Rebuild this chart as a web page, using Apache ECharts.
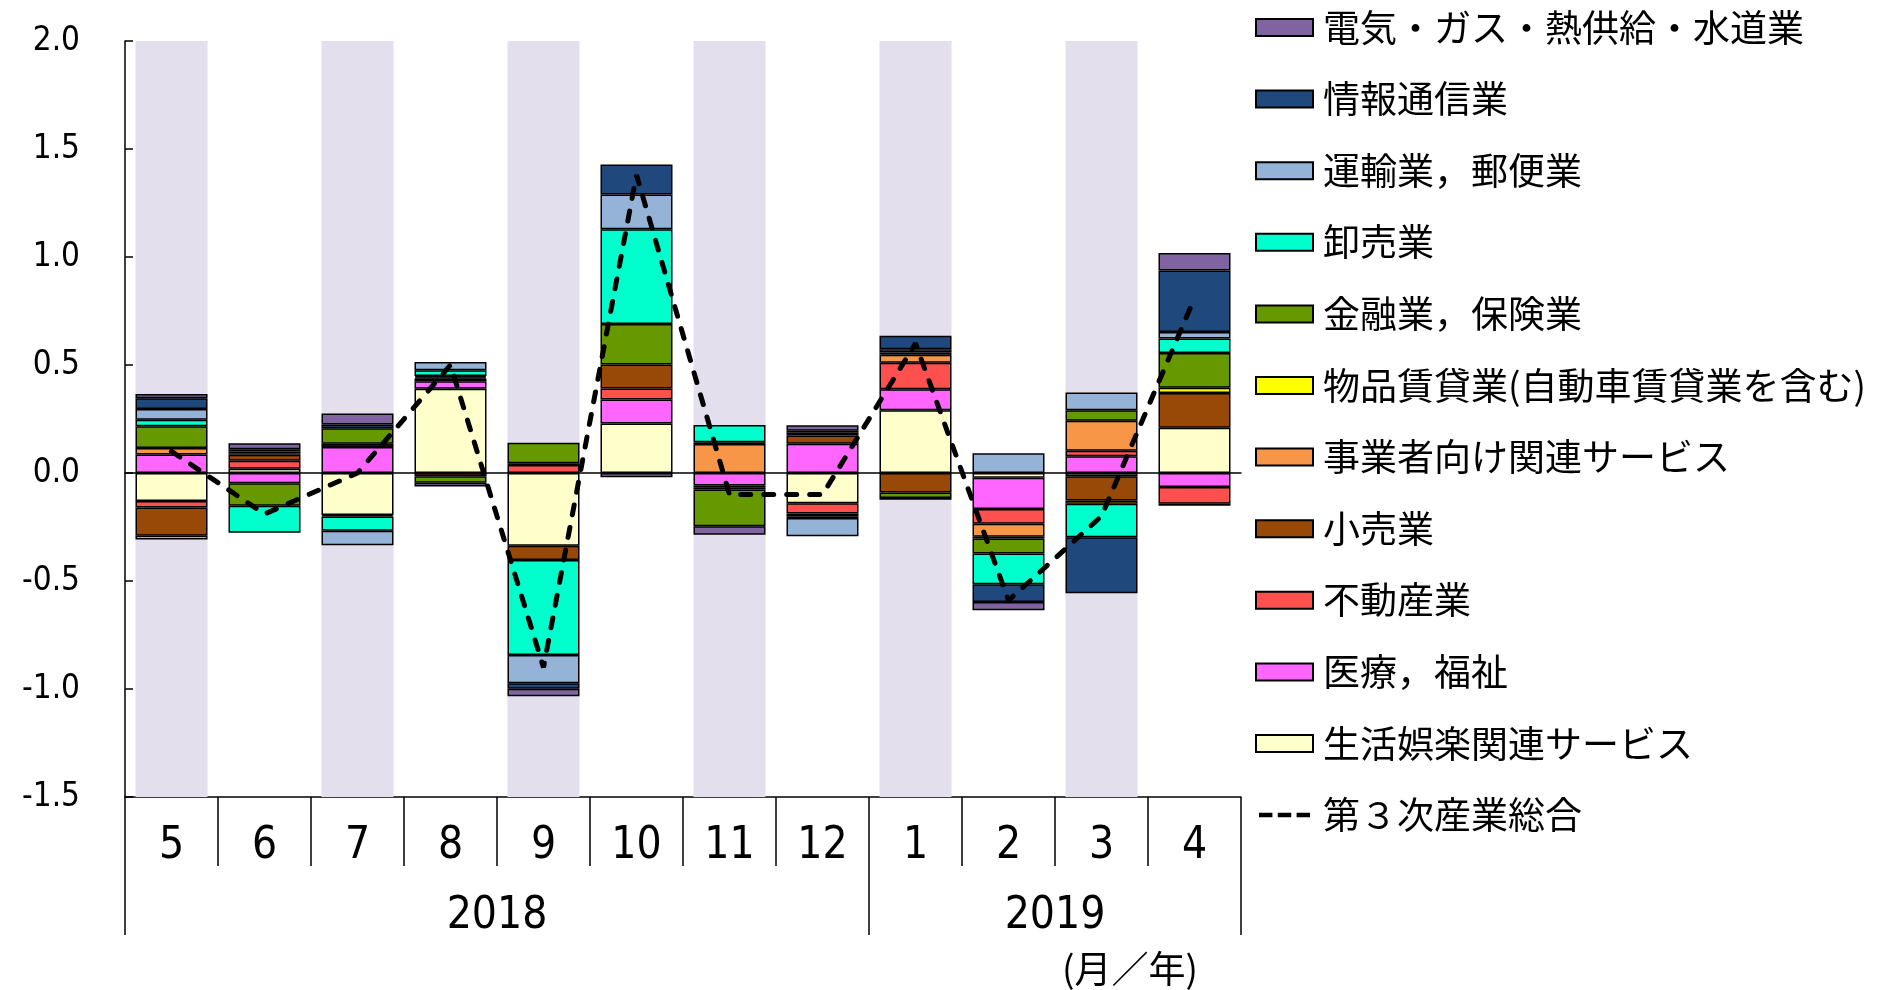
<!DOCTYPE html>
<html>
<head>
<meta charset="utf-8">
<title>第３次産業活動指数 業種別寄与度</title>
<script src="https://cdn.jsdelivr.net/npm/echarts@6.0.0/dist/echarts.min.js"></script>
<style>
  html, body { margin: 0; padding: 0; background: #fff; }
  #chart { width: 1889px; height: 990px; }
</style>
</head>
<body>
<div id="chart"></div>
<script>
// 月（2018/5 〜 2019/4）
const months = ["5", "6", "7", "8", "9", "10", "11", "12", "1", "2", "3", "4"];
const years = ["2018", "2019"];
const monthsInYear = [8, 4];
const shadedMonths = ["5", "7", "9", "11", "1", "3"];

// y軸
const Y_MIN = -1.5;
const Y_MAX = 2.0;
const Y_STEP = 0.5;

// 業種別寄与度（積み上げ順：ゼロに近い方から）
const seikatsu = [-0.13, 0.02, -0.195, 0.39, -0.337, 0.229, null, -0.14, 0.291, -0.022, -0.015, 0.21];
const iryo = [0.086, -0.047, 0.12, 0.035, null, 0.111, -0.058, 0.135, 0.097, -0.145, 0.077, -0.065];
const fudosan = [-0.03, 0.037, null, -0.015, 0.037, 0.051, -0.008, -0.048, 0.122, -0.068, 0.026, -0.077];
const kouri = [-0.13, 0.027, 0.015, 0.012, -0.066, 0.111, -0.01, 0.039, -0.09, null, -0.112, 0.16];
const jigyosha = [0.03, 0.008, -0.006, 0.006, 0.008, null, 0.134, -0.012, 0.038, -0.06, 0.139, -0.01];
const buppin = [-0.018, null, null, 0.006, null, null, 0.008, -0.008, 0.01, -0.008, -0.015, 0.025];
const kinyu = [0.1, -0.105, 0.072, -0.03, 0.095, 0.188, -0.17, 0.012, -0.026, -0.07, 0.049, 0.16];
const oroshi = [0.03, -0.125, -0.066, 0.027, -0.44, 0.439, 0.08, null, -0.008, -0.142, -0.155, 0.068];
const unyu = [0.05, 0.008, -0.068, 0.038, -0.13, 0.16, null, -0.085, 0.015, 0.091, 0.082, 0.03];
const joho = [0.05, 0.01, 0.018, null, -0.026, 0.139, null, 0.01, 0.062, -0.082, -0.26, 0.285];
const denki = [0.02, 0.028, 0.05, -0.018, -0.035, -0.02, -0.04, 0.025, null, -0.038, null, 0.08];

// 第３次産業総合（前月比）
const sogo = [0.1, -0.19, 0.0, 0.5, -0.9, 1.38, -0.1, -0.1, 0.6, -0.59, -0.2, 0.81];

const BAR_SERIES = [
  { name: "生活娯楽関連サービス", data: seikatsu, color: "#FFFFCC" },
  { name: "医療，福祉", data: iryo, color: "#FF66FF" },
  { name: "不動産業", data: fudosan, color: "#FF5050" },
  { name: "小売業", data: kouri, color: "#984807" },
  { name: "事業者向け関連サービス", data: jigyosha, color: "#F79646" },
  { name: "物品賃貸業(自動車賃貸業を含む)", data: buppin, color: "#FFFF00" },
  { name: "金融業，保険業", data: kinyu, color: "#669900" },
  { name: "卸売業", data: oroshi, color: "#00FFCC" },
  { name: "運輸業，郵便業", data: unyu, color: "#95B3D7" },
  { name: "情報通信業", data: joho, color: "#1F497D" },
  { name: "電気・ガス・熱供給・水道業", data: denki, color: "#8064A2" },
];
const LINE_NAME = "第３次産業総合";

const NARROW = "'Liberation Sans Narrow', 'DejaVu Sans Condensed', sans-serif";
const JP = "'Noto Sans CJK JP', sans-serif";
const BLACK_LINE = { color: "#000", width: 1.5 };
// 凡例用の破線アイコン（上下の小さな点で高さを確保）
const DASH_ICON =
  "path://M0,0h0.1v0.1h-0.1z M0,7h15v5h-15z M21,7h15v5h-15z M42,7h15v5h-15z M0,18.9h0.1v0.1h-0.1z";

// 年の区切り位置とラベル位置（月数から計算）
const yearBounds = [0];
monthsInYear.forEach((n, i) => yearBounds.push(yearBounds[i] + n));
const yearCenters = years.map((y, i) => (yearBounds[i] + yearBounds[i + 1]) / 2);

const bandUp = months.map((m) => (shadedMonths.includes(m) ? Y_MAX : null));
const bandDown = months.map((m) => (shadedMonths.includes(m) ? Y_MIN : null));

function getChartOption() {
  const barSeries = BAR_SERIES.map((s) => ({
    name: s.name,
    type: "bar",
    stack: "total",
    xAxisIndex: 0,
    barWidth: 72,
    z: 3,
    itemStyle: { color: s.color, borderColor: "#000", borderWidth: 1.5 },
    data: s.data,
  }));

  const legendData = BAR_SERIES.slice()
    .reverse()
    .map((s) => ({ name: s.name, icon: "rect" }));
  legendData.push({ name: LINE_NAME, icon: DASH_ICON, itemStyle: { color: "#000", borderWidth: 0 } });

  return {
    animation: false,
    backgroundColor: "#fff",
    title: {
      text: "(月／年)",
      left: 1062,
      top: 950,
      padding: 0,
      textStyle: { fontSize: 37, fontWeight: "normal", fontFamily: JP, color: "#000" },
    },
    grid: { left: 125, right: 648, top: 41, bottom: 193, outerBoundsMode: "none" },
    legend: {
      orient: "vertical",
      left: 1250,
      top: 4,
      itemWidth: 57,
      itemHeight: 17,
      itemGap: 34.6,
      selectedMode: false,
      textStyle: { fontSize: 37, lineHeight: 37, fontFamily: JP, color: "#000", padding: [0, 0, 0, 5] },
      data: legendData,
    },
    xAxis: [
      {
        type: "category",
        data: months,
        position: "bottom",
        axisLine: { onZero: false, lineStyle: BLACK_LINE },
        axisTick: { show: true, length: 69, lineStyle: BLACK_LINE },
        axisLabel: { margin: 28, fontSize: 44, color: "#000", fontFamily: NARROW },
        splitLine: { show: false },
      },
      {
        // ゼロ線 + 背景帯用
        type: "category",
        data: months,
        position: "bottom",
        z: 2,
        axisLine: { onZero: true, lineStyle: BLACK_LINE },
        axisTick: { show: false },
        axisLabel: { show: false },
        splitLine: { show: false },
      },
      {
        // 年ラベル
        type: "value",
        min: 0,
        max: yearBounds[yearBounds.length - 1],
        position: "bottom",
        axisLine: { show: false, onZero: false },
        axisTick: { show: true, customValues: yearBounds, length: 138, lineStyle: BLACK_LINE },
        axisLabel: {
          customValues: yearCenters,
          formatter: (v) => years[yearCenters.indexOf(v)],
          margin: 98,
          fontSize: 44,
          color: "#000",
          fontFamily: NARROW,
        },
        splitLine: { show: false },
      },
    ],
    yAxis: {
      type: "value",
      min: Y_MIN,
      max: Y_MAX,
      interval: Y_STEP,
      axisLine: { show: true, onZero: false, lineStyle: BLACK_LINE },
      axisTick: { show: true, inside: true, length: 8, lineStyle: BLACK_LINE },
      axisLabel: {
        formatter: (v) => v.toFixed(1),
        margin: 45,
        fontSize: 33,
        color: "#000",
        fontFamily: NARROW,
      },
      splitLine: { show: false },
    },
    series: [
      {
        name: "bandUp",
        type: "bar",
        xAxisIndex: 1,
        barWidth: 72,
        barGap: "-100%",
        silent: true,
        z: 1,
        itemStyle: { color: "#E4DFEC" },
        data: bandUp,
      },
      {
        name: "bandDown",
        type: "bar",
        xAxisIndex: 1,
        barWidth: 72,
        barGap: "-100%",
        silent: true,
        z: 1,
        itemStyle: { color: "#E4DFEC" },
        data: bandDown,
      },
      ...barSeries,
      {
        name: LINE_NAME,
        type: "line",
        xAxisIndex: 0,
        symbol: "none",
        z: 5,
        lineStyle: { color: "#000", width: 5, type: [10, 13], cap: "round" },
        itemStyle: { color: "#000" },
        data: sogo,
      },
    ],
  };
}

const chart = echarts.init(document.getElementById("chart"));
chart.setOption(getChartOption());
</script>
</body>
</html>
